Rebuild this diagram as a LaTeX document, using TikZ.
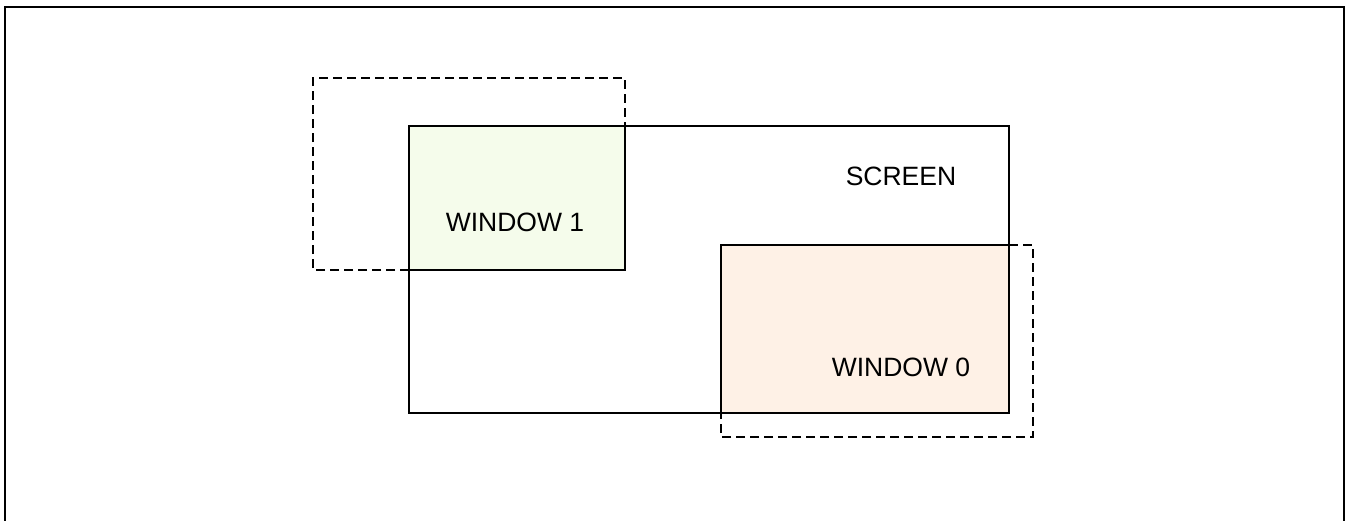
\documentclass[tikz,border=0pt]{standalone}
\usepackage{fontspec}
\setmainfont{Liberation Sans}
\definecolor{winonefill}{HTML}{F5FCEB}
\definecolor{winzerofill}{HTML}{FEF1E6}
\tikzset{
  outline/.style={draw=black, line width=1.8pt},
  ghost/.style={draw=black, line width=1.8pt, dash pattern=on 9pt off 5pt},
  caption/.style={font=\fontsize{26.5}{31}\selectfont, inner sep=0pt, anchor=center}
}
\begin{document}
\begin{tikzpicture}[x=1pt, y=-1pt]
  \useasboundingbox (0,0) rectangle (1348,520);
  \fill[white] (0,0) rectangle (1348,520);
  % page frame, open at the bottom
  \begin{scope}
    \clip (0,0) rectangle (1348,520);
    \draw[line width=2.6pt] (5,530) -- (5,7) -- (1344,7) -- (1344,530);
  \end{scope}
  % window panels
  \fill[winonefill] (409,126) rectangle (625,270);
  \fill[winzerofill] (721,245) rectangle (1009,413);
  % window outlines
  \draw[outline] (409,126) rectangle (625,270);
  \draw[outline] (721,245) rectangle (1009,413);
  % full window extents beyond the screen
  \draw[ghost] (409,270) -- (313,270) -- (313,78) -- (625,78) -- (625,126);
  \draw[ghost] (1009,245) -- (1033,245) -- (1033,437) -- (721,437) -- (721,413);
  % screen
  \draw[outline] (409,126) rectangle (1009,413);
  % labels
  \node[caption] (screen) at (901,176) {SCREEN};
  \node[caption] (win1) at (515,222) {WINDOW 1};
  \node[caption] (win0) at (901,367) {WINDOW 0};
\end{tikzpicture}
\end{document}
